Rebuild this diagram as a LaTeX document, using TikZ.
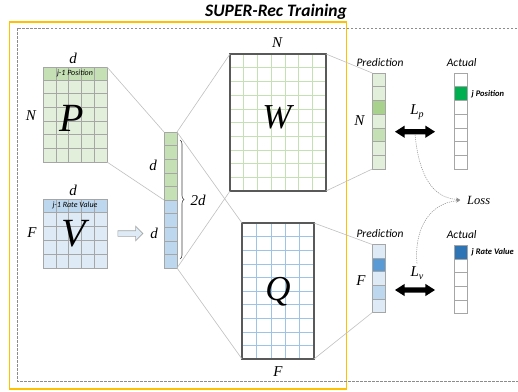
\documentclass[tikz,border=0pt]{standalone}
\usepackage{fontspec}
\newfontfamily\calib{Carlito}
\newfontfamily\serifit{Liberation Serif}
\usepackage{tikz}
\usetikzlibrary{arrows.meta,positioning,shapes.arrows,decorations.pathreplacing}
\definecolor{GreenLight}{HTML}{E2EFDA}
\definecolor{GreenMid}{HTML}{C5E0B4}
\definecolor{GreenDeep}{HTML}{A9D18E}
\definecolor{GreenBright}{HTML}{00B050}
\definecolor{BlueLight}{HTML}{DEEBF7}
\definecolor{BlueMid}{HTML}{BDD7EE}
\definecolor{BlueDeep}{HTML}{5B9BD5}
\definecolor{BlueDark}{HTML}{2E75B6}
\definecolor{Gold}{HTML}{FFC000}
\definecolor{CellGray}{HTML}{A6A6A6}
\definecolor{FrameGray}{HTML}{595959}
\definecolor{LinkGray}{HTML}{BFBFBF}
\definecolor{DashGray}{HTML}{8C8C8C}
\definecolor{WGrid}{HTML}{C5E0B4}
\definecolor{QGrid}{HTML}{9DC3E6}

\begin{document}
\begin{tikzpicture}[x=1pt,y=-1pt,
  lbl/.style={font=\serifit\itshape\fontsize{15}{15}\selectfont},
  big/.style={font=\serifit\itshape\fontsize{40}{40}\selectfont},
  capt/.style={font=\calib\itshape\fontsize{11.5}{12}\selectfont},
  hdr/.style={font=\calib\itshape\fontsize{8}{8}\selectfont,inner sep=0pt},
  tag/.style={font=\calib\bfseries\itshape\fontsize{8.5}{9}\selectfont,anchor=west,inner sep=0pt},
  box/.style={inner sep=0pt,outer sep=0pt},
  cell/.style={draw=CellGray,line width=0.6pt},
  wline/.style={draw=WGrid,line width=0.6pt},
  qline/.style={draw=QGrid,line width=0.6pt},
  frame/.style={draw=FrameGray,line width=1.2pt},
  link/.style={draw=LinkGray,line width=0.6pt},
  lossln/.style={draw=DashGray,line width=0.5pt,dash pattern=on 1.2pt off 1pt,
    shorten >=6pt,-{Stealth[length=4pt,width=3.5pt]}},
  dblarr/.style={double arrow,fill=black,inner sep=2.5pt,minimum height=40pt,
    double arrow head extend=3.5pt,double arrow tip angle=65}]
\useasboundingbox (0,0) rectangle (518,391);

% frames and title
\draw[draw=Gold,line width=1.2pt] (9.5,22) rectangle (346.7,389);
\draw[draw=DashGray,line width=0.8pt,dash pattern=on 2.5pt off 1.5pt] (17,28) rectangle (530,381);
\node[font=\calib\bfseries\itshape\fontsize{17.5}{17.5}\selectfont] (title) at (276,12) {SUPER-Rec Training};

% P matrix
\node[box,fill=GreenLight,minimum width=64,minimum height=95] (P) at (75,114.5) {};
\fill[GreenMid] (43,67) rectangle (107,80);
\foreach \i in {1,...,4} \draw[cell] (43+\i*12.8,67) -- (43+\i*12.8,162);
\foreach \i in {0,...,5} \draw[cell] (43,80+\i*13.667) -- (107,80+\i*13.667);
\draw[cell] (P.north west) rectangle (P.south east);
\node[hdr] (Phdr) at (75,73.5) {j-1 Position};
\node[big] (Pname) at (72,118) {P};
\node[lbl] (Pd) at (73,58) {d};
\node[lbl] (PN) at (31,116) {N};

% V matrix
\node[box,fill=BlueLight,minimum width=64,minimum height=69] (V) at (75,233.5) {};
\fill[BlueMid] (43,199) rectangle (107,212);
\foreach \i in {1,...,4} \draw[cell] (43+\i*12.8,199) -- (43+\i*12.8,268);
\foreach \i in {0,...,3} \draw[cell] (43,212+\i*14) -- (107,212+\i*14);
\draw[cell] (V.north west) rectangle (V.south east);
\node[hdr] (Vhdr) at (75,205.5) {j-1 Rate Value};
\node[big] (Vname) at (74,234) {V};
\node[lbl] (Vd) at (73,190) {d};
\node[lbl] (VF) at (32,233) {F};
\node[single arrow,draw=CellGray,fill=BlueLight,line width=0.6pt,inner sep=2.5pt,
  minimum height=25pt,single arrow head extend=4.5pt] (push) at (129,233.5) {};

% concatenated vector
\node[box,minimum width=13,minimum height=136] (vec) at (170.5,200) {};
\foreach \i in {0,...,4} \draw[cell,fill=GreenMid] (164,132+\i*13.6) rectangle ++(13,13.6);
\foreach \i in {5,...,9} \draw[cell,fill=BlueMid] (164,132+\i*13.6) rectangle ++(13,13.6);
\node[lbl] (vecd1) at (153,165) {d};
\node[lbl] (vecd2) at (154,233) {d};
\draw[decorate,decoration={brace,amplitude=4pt},line width=0.6pt,draw=black!75] (180,140) -- (180,259);
\node[lbl] (twod) at (198,200) {2d};

% W matrix
\node[box,fill=white,minimum width=96,minimum height=137] (W) at (278,122.5) {};
\foreach \i in {1,...,6} \draw[wline] (230+\i*13.714,54) -- (230+\i*13.714,191);
\foreach \i in {1,...,9} \draw[wline] (230,54+\i*13.7) -- (326,54+\i*13.7);
\draw[frame] (W.north west) rectangle (W.south east);
\node[font=\serifit\itshape\fontsize{35}{35}\selectfont] (Wname) at (277,117) {W};
\node[lbl] (WN) at (277,43) {N};

% Q matrix
\node[box,fill=white,minimum width=72,minimum height=136] (Q) at (278,291) {};
\foreach \i in {1,...,4} \draw[qline] (242+\i*14.4,223) -- (242+\i*14.4,359);
\foreach \i in {1,...,9} \draw[qline] (242,223+\i*13.6) -- (314,223+\i*13.6);
\draw[frame] (Q.north west) rectangle (Q.south east);
\node[font=\serifit\itshape\fontsize{35}{35}\selectfont] (Qname) at (278,292) {Q};
\node[lbl] (QF) at (278,372) {F};

% projection lines
\draw[link] (P.north east) -- (vec.north west);
\draw[link] (P.south east) -- (vec.west);

% position prediction
\node[box,minimum width=13.5,minimum height=96] (predP) at (379,121) {};
\foreach \i/\c in {0/GreenLight,1/GreenLight,2/GreenDeep,3/GreenLight,4/GreenMid,5/GreenLight,6/GreenLight}
  \draw[cell,fill=\c] (372.25,73+\i*13.714) rectangle ++(13.5,13.714);
\node[capt] (predPt) at (380,63) {Prediction};
\node[lbl] (predPN) at (359.3,121) {N};
\node[box,minimum width=13,minimum height=96] (actP) at (460.5,121) {};
\foreach \i/\c in {0/white,1/GreenBright,2/white,3/white,4/white,5/white,6/white}
  \draw[cell,fill=\c] (454,73+\i*13.714) rectangle ++(13,13.714);
\node[capt] (actPt) at (461.7,63) {Actual};
\node[tag] (actPtag) at (471.5,94) {j Position};

% rate prediction
\node[box,minimum width=13.5,minimum height=68] (predV) at (379,278.5) {};
\foreach \i/\c in {0/BlueLight,1/BlueDeep,2/BlueLight,3/BlueMid,4/BlueLight}
  \draw[cell,fill=\c] (372.25,244.5+\i*13.6) rectangle ++(13.5,13.6);
\node[capt] (predVt) at (380,234) {Prediction};
\node[lbl] (predVF) at (361,281) {F};
\node[box,minimum width=13,minimum height=68] (actV) at (460.5,279.5) {};
\foreach \i/\c in {0/BlueDark,1/white,2/white,3/white,4/white}
  \draw[cell,fill=\c] (454,245.5+\i*13.6) rectangle ++(13,13.6);
\node[capt] (actVt) at (461.7,234.3) {Actual};
\node[tag] (actVtag) at (471.5,252.3) {j Rate Value};

\draw[link] (vec.north east) -- (W.north west);
\draw[link] (vec.north east) -- (Q.north west);
\draw[link] (vec.south east) -- (W.south west);
\draw[link] (vec.south east) -- (Q.south west);
\draw[link] (W.north east) -- (predP.north west);
\draw[link] (W.south east) -- (predP.south west);
\draw[link] (Q.north east) -- (predV.north west);
\draw[link] (Q.south east) -- (predV.south west);

% losses
\node[dblarr] (lparr) at (415,131.7) {};
\node[dblarr] (lvarr) at (415,290) {};
\node[lbl] (lplab) at (417,112) {L\raisebox{-0.35ex}{\fontsize{10}{10}\selectfont p}};
\node[lbl] (lvlab) at (417,273) {L\raisebox{-0.35ex}{\fontsize{10}{10}\selectfont v}};
\node[font=\serifit\itshape\fontsize{12.5}{12.5}\selectfont,anchor=west,inner sep=1pt] (loss) at (466,200) {Loss};
\draw[lossln] (lparr.south) .. controls (419,175) and (432,198) .. (loss.west);
\draw[lossln] (lvlab.north) .. controls (414,228) and (430,203) .. (loss.west);
\end{tikzpicture}
\end{document}
